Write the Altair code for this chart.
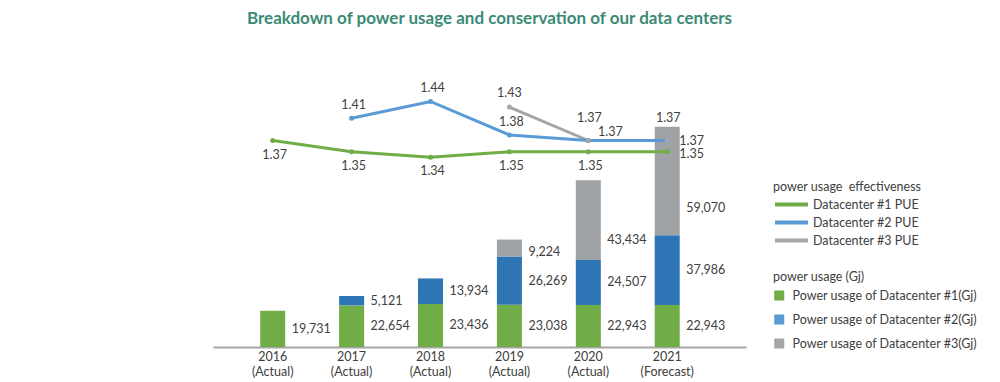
import altair as alt
import pandas as pd

# ---------------- data ----------------
years = ["2016", "2017", "2018", "2019", "2020", "2021"]
periods = ["(Actual)", "(Actual)", "(Actual)", "(Actual)", "(Actual)", "(Forecast)"]

dc1_gj = [19731, 22654, 23436, 23038, 22943, 22943]
dc2_gj = [None, 5121, 13934, 26269, 24507, 37986]
dc3_gj = [None, None, None, 9224, 43434, 59070]

dc1_pue = [1.37, 1.35, 1.34, 1.35, 1.35, 1.35]
dc2_pue = [None, 1.41, 1.44, 1.38, 1.37, 1.37]
dc3_pue = [None, None, None, 1.43, 1.37, 1.37]

bar_series = ["Power usage of Datacenter #1(Gj)",
              "Power usage of Datacenter #2(Gj)",
              "Power usage of Datacenter #3(Gj)"]
line_series = ["Datacenter #1 PUE", "Datacenter #2 PUE", "Datacenter #3 PUE"]

bar_colors = ["#70AD47", "#2E75B6", "#A0A3A6"]
legend_bar_colors = ["#70AD47", "#5B9BD5", "#A5A5A5"]
line_colors = ["#70AD47", "#5B9BD5", "#A5A5A5"]

TITLE = "Breakdown of power usage and conservation of our data centers"
FONT = "Lato"
TEXT_COLOR = "#404040"

# ---------------- tables ----------------
cats = [f"{y} {p}" for y, p in zip(years, periods)]

bar_rows = []
for i, vals in enumerate([dc1_gj, dc2_gj, dc3_gj]):
    for c, y, v in zip(cats, years, vals):
        if v is not None:
            bar_rows.append({"cat": c, "year": y, "series": bar_series[i],
                             "idx": i + 1, "gj": v, "col": bar_colors[i]})
bars_df = pd.DataFrame(bar_rows)

line_rows = []
for i, vals in enumerate([dc1_pue, dc2_pue, dc3_pue]):
    for c, y, v in zip(cats, years, vals):
        if v is not None:
            line_rows.append({"cat": c, "year": y, "series": line_series[i],
                              "idx": i + 1, "pue": v, "col": line_colors[i]})
lines_df = pd.DataFrame(line_rows)

# ---------------- scales ----------------
x_enc = alt.X(
    "cat:N", sort=cats, title=None,
    scale=alt.Scale(paddingInner=0.683, paddingOuter=0.719, align=0.416),
    axis=alt.Axis(labelExpr="split(datum.label, ' ')", labelAngle=0,
                  labelLineHeight=15, labelPadding=3, ticks=False,
                  domainColor="#A6A6A6", domainWidth=2, grid=False,
                  labelFont=FONT, labelFontSize=12.5, labelColor=TEXT_COLOR),
)
gj_scale = alt.Scale(domain=[0, 152000])
pue_scale = alt.Scale(domain=[1.0, 1.5])

# ---------------- bars ----------------
bar_base = alt.Chart(bars_df).transform_stack(
    stack="gj", groupby=["cat"], as_=["y0", "y1"],
    sort=[alt.SortField("idx", order="ascending")],
).transform_calculate(
    ylab="datum.idx == 3 ? datum.y0 + 0.25 * datum.gj : (datum.y0 + datum.y1) / 2"
)

bars = bar_base.mark_bar().encode(
    x=x_enc,
    y=alt.Y("y1:Q", scale=gj_scale, axis=None),
    y2="y0:Q",
    color=alt.Color("col:N", scale=None),
)

bar_labels = bar_base.mark_text(
    align="left", baseline="middle", dx=19, font=FONT, fontSize=12.5, color=TEXT_COLOR
).encode(
    x=alt.X("cat:N", sort=cats),
    y=alt.Y("ylab:Q", scale=gj_scale, axis=None),
    text=alt.Text("gj:Q", format=","),
)

bar_legend = alt.Chart(bars_df).transform_filter("false").mark_square(opacity=1).encode(
    x=alt.X("cat:N", sort=cats),
    y=alt.Y("gj:Q", scale=gj_scale, axis=None),
    fill=alt.Fill(
        "series:N",
        scale=alt.Scale(domain=bar_series, range=legend_bar_colors),
        legend=alt.Legend(
            title="power usage (Gj)", orient="none", legendX=560, legendY=203,
            symbolType="square", symbolSize=100, symbolStrokeWidth=0,
            clipHeight=14, rowPadding=10, labelOffset=7, titlePadding=5,
            padding=0, labelFont=FONT, labelFontSize=12.5, labelColor=TEXT_COLOR,
            titleFont=FONT, titleFontSize=12.5, titleFontWeight="normal",
            titleColor=TEXT_COLOR, labelLimit=300,
        ),
    ),
)

bar_layer = alt.layer(bars, bar_legend, bar_labels)

# ---------------- lines ----------------
line_base = alt.Chart(lines_df)
stroke_enc = alt.Stroke(
    "series:N",
    scale=alt.Scale(domain=line_series, range=line_colors),
    legend=alt.Legend(
        title="power usage\u00a0 effectiveness", orient="none", legendX=560, legendY=113,
        symbolType="stroke", symbolSize=1089, symbolStrokeWidth=4,
        clipHeight=14, rowPadding=4, labelOffset=3, titlePadding=4,
        padding=0, labelFont=FONT, labelFontSize=12.5, labelColor=TEXT_COLOR,
        titleFont=FONT, titleFontSize=12.5, titleFontWeight="normal",
        titleColor=TEXT_COLOR, labelLimit=300,
    ),
)
y_pue = alt.Y("pue:Q", scale=pue_scale, axis=None)
x_plain = alt.X("cat:N", sort=cats)


def line_for(idx):
    return line_base.transform_filter(f"datum.idx == {idx}").mark_line(
        strokeWidth=3
    ).encode(x=x_plain, y=y_pue, stroke=stroke_enc)


points = line_base.mark_circle(size=25, opacity=1).encode(
    x=x_plain, y=y_pue, color=alt.Color("col:N", scale=None)
)


def pue_label(cond, dx=0, dy=0, align="center"):
    return line_base.transform_filter(cond).mark_text(
        align=align, baseline="middle", dx=dx, dy=dy,
        font=FONT, fontSize=12.5, color=TEXT_COLOR,
    ).encode(x=x_plain, y=y_pue, text=alt.Text("pue:Q", format=".2f"))


labels = [
    pue_label("datum.idx == 1 && datum.year != '2021'", dx=2, dy=14),
    pue_label("datum.idx == 1 && datum.year == '2021'", dx=12, dy=2, align="left"),
    pue_label("datum.idx == 2 && datum.year <= '2019'", dx=2, dy=-13),
    pue_label("datum.idx == 2 && datum.year == '2020'", dx=22, dy=-9),
    pue_label("datum.idx == 2 && datum.year == '2021'", dx=12, dy=0, align="left"),
    pue_label("datum.idx == 3 && datum.year == '2019'", dx=0, dy=-14),
    pue_label("datum.idx == 3 && datum.year >= '2020'", dx=1, dy=-23),
]

line_layer = alt.layer(line_for(3), line_for(1), line_for(2), points, *labels)

# ---------------- compose ----------------
chart = alt.layer(bar_layer, line_layer).resolve_scale(
    y="independent"
).properties(
    width=533,
    height=279,
    padding={"left": 205, "top": 2, "right": 0, "bottom": 0},
    title=alt.TitleParams(
        TITLE, anchor="middle", frame="group", dx=10, offset=40,
        font=FONT, fontSize=17, fontWeight="bold", color="#3B8A76",
    ),
).configure_view(stroke=None)

chart.save("out.html", embed_options={"renderer": "svg", "actions": False})
